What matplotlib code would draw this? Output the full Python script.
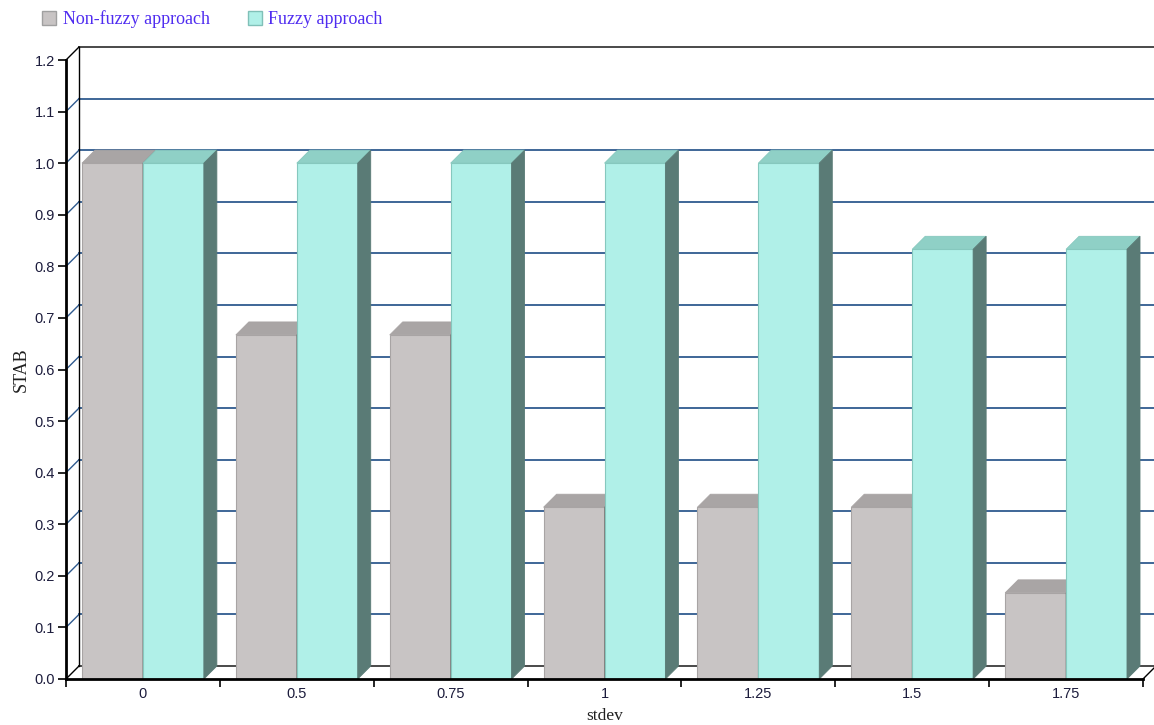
import numpy as np
import matplotlib
matplotlib.use("Agg")
from matplotlib import pyplot as plt
from matplotlib.patches import Polygon, Patch

# STAB per stdev level
stdev = ["0", "0.5", "0.75", "1", "1.25", "1.5", "1.75"]
non_fuzzy = [1.0, 0.667, 0.667, 0.333, 0.333, 0.333, 0.167]
fuzzy = [1.0, 1.0, 1.0, 1.0, 1.0, 0.833, 0.833]
series_names = ["Non-fuzzy approach", "Fuzzy approach"]

# face colours: front, top, side
gray = ("#c8c4c4", "#a9a5a5", "#7d7a7a")
cyan = ("#b0f0e8", "#8fd0c6", "#5a7b76")
grid_blue = "#2f5a8f"

W, H = 1154, 725
fig = plt.figure(figsize=(W / 100, H / 100), dpi=100)
ax = fig.add_axes([66 / W, 46 / H, 1077 / W, 619 / H])

n = len(stdev)
ymax = 1.2
ax.set_xlim(0, n)
ax.set_ylim(0, ymax)

# 3d depth offset in data units (13 px right and up)
dx = 13 / (1077 / n)
dy = 13 / (619 / ymax)

yticks = np.round(np.arange(0, ymax + 0.001, 0.1), 1)

# back wall: gridlines and wall diagonals
for v in yticks:
    col = grid_blue if 0 < v < ymax else "#3a3a3a"
    ax.plot([dx, n + dx], [v + dy, v + dy], color=col, lw=1.3, clip_on=False, zorder=1)
    ax.plot([0, dx], [v, v + dy], color=col if 0 < v < ymax else "black",
            lw=1.0, clip_on=False, zorder=1)
ax.plot([dx, dx], [dy, ymax + dy], color="black", lw=1.0, clip_on=False, zorder=1)
ax.plot([n, n + dx], [0, dy], color="black", lw=1.0, clip_on=False, zorder=1)


def bar3d(x0, x1, h, faces, edge):
    front, top, side = faces
    ax.add_patch(Polygon([(x0, 0), (x1, 0), (x1, h), (x0, h)], closed=True,
                         facecolor=front, edgecolor=edge, lw=0.8, zorder=3, clip_on=False))
    ax.add_patch(Polygon([(x0, h), (x1, h), (x1 + dx, h + dy), (x0 + dx, h + dy)], closed=True,
                         facecolor=top, edgecolor=edge, lw=0.6, zorder=3, clip_on=False))
    ax.add_patch(Polygon([(x1, 0), (x1 + dx, dy), (x1 + dx, h + dy), (x1, h)], closed=True,
                         facecolor=side, edgecolor=side, lw=0.6, zorder=3, clip_on=False))


gap = 16 / (1077 / n)
for i in range(n):
    bar3d(i + gap, i + 0.5, non_fuzzy[i], gray, "#a8a4a4")
    bar3d(i + 0.5, i + 1 - gap, fuzzy[i], cyan, "#86c8be")

# front axes
for s in ["top", "right"]:
    ax.spines[s].set_visible(False)
ax.spines["left"].set_linewidth(2)
ax.spines["bottom"].set_linewidth(2)
ax.spines["left"].set_zorder(5)
ax.spines["bottom"].set_zorder(5)

tick_color = "#1c1c3c"
ax.set_yticks(yticks)
ax.set_yticklabels([f"{v:.1f}" for v in yticks], fontsize=10.5,
                   family="Liberation Sans", color=tick_color)
ax.tick_params(axis="y", direction="out", length=6, width=1.2, pad=2)

ax.set_xticks(np.arange(0, n + 1))
ax.set_xticklabels([])
ax.set_xticks(np.arange(n) + 0.5, minor=True)
ax.set_xticklabels(stdev, minor=True, fontsize=10.5, family="Liberation Sans", color=tick_color)
ax.tick_params(axis="x", which="major", direction="out", length=6, width=1.2)
ax.tick_params(axis="x", which="minor", length=0, pad=6)

ax.set_xlabel("stdev", family="Liberation Serif", fontsize=12.5, color="#202020", va="center")
ax.xaxis.set_label_coords(0.5, -37 / 619)
ax.set_ylabel("STAB", family="Liberation Serif", fontsize=13, color="#202020", va="center")
ax.yaxis.set_label_coords(-45 / 1077, 0.5)

handles = [Patch(facecolor=gray[0], edgecolor="#a0a0a0"),
           Patch(facecolor=cyan[0], edgecolor="#80c0b8")]
fig.legend(handles, series_names, loc="upper left", bbox_to_anchor=(33 / W, 1 - 1 / H),
           ncol=2, frameon=False, borderpad=0, handlelength=0.8, handleheight=0.8,
           handletextpad=0.35, columnspacing=2.1,
           prop={"family": "Liberation Serif", "size": 13}, labelcolor="#4f2cf0")

fig.savefig("out.png", dpi=100)
